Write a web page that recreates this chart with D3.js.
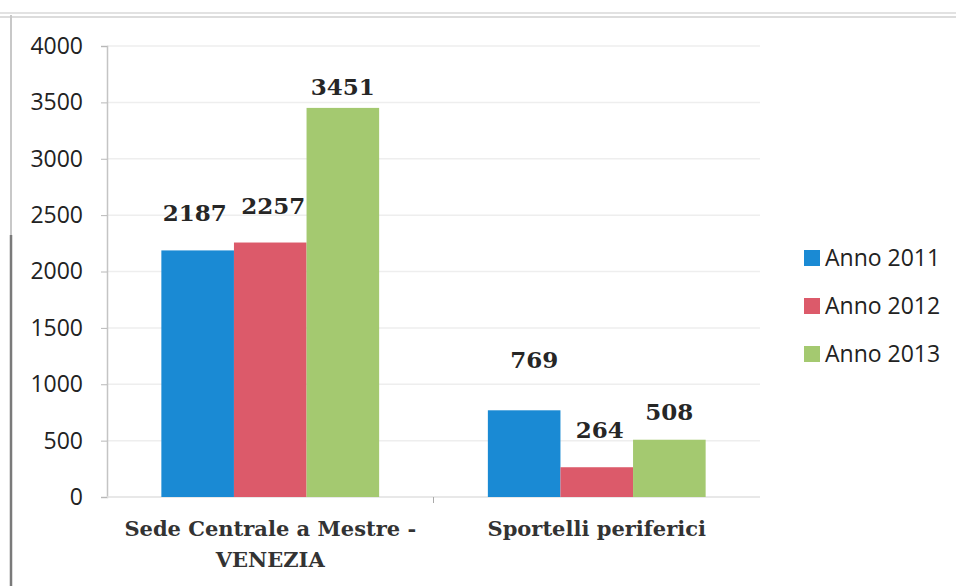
<!DOCTYPE html>
<html><head><meta charset="utf-8">
<script src="https://cdn.jsdelivr.net/npm/d3@7"></script>
<style>body{margin:0;background:#fff}svg{display:block}</style>
</head><body>
<svg id="c" width="956" height="586"></svg>
<script>
const categories = ["Sede Centrale a Mestre - VENEZIA", "Sportelli periferici"];
const categoryLines = [["Sede Centrale a Mestre -", "VENEZIA"], ["Sportelli periferici"]];
const seriesNames = ["Anno 2011", "Anno 2012", "Anno 2013"];
const values2011 = [2187, 769];
const values2012 = [2257, 264];
const values2013 = [3451, 508];
const yTicks = [0, 500, 1000, 1500, 2000, 2500, 3000, 3500, 4000];
const colors = ["#1a8ad4", "#dc5a6a", "#a4c970"];
// label nudges (dx, dy in px relative to bar top centre) as placed in the original
const labelNudge = [
  [[-3, -29], [3, -29], [0, -13]],
  [[10, -42], [3, -29], [0, -20]]
];

const series = [values2011, values2012, values2013];
const svg = d3.select("#c");
const L = 107, R = 760, T = 46, B = 497;

const x0 = d3.scaleBand().domain(categories).range([L, R]).paddingInner(0.333).paddingOuter(0.1665);
const x1 = d3.scaleBand().domain(seriesNames).range([0, x0.bandwidth()]);
const y = d3.scaleLinear().domain([0, 4000]).range([B, T]);

// frame
svg.append("line").attr("x1", 0).attr("x2", 956).attr("y1", 13).attr("y2", 13).attr("stroke", "#e2e2e2").attr("stroke-width", 2);
svg.append("line").attr("x1", 0).attr("x2", 956).attr("y1", 17).attr("y2", 17).attr("stroke", "#d0d0d0").attr("stroke-width", 1.5);
svg.append("line").attr("x1", 11).attr("x2", 11).attr("y1", 15).attr("y2", 235).attr("stroke", "#c8c8c8").attr("stroke-width", 2);
svg.append("line").attr("x1", 11).attr("x2", 11).attr("y1", 235).attr("y2", 586).attr("stroke", "#7a7a7a").attr("stroke-width", 2.5);

// grid
svg.append("g").selectAll("line").data(yTicks.filter(d => d > 0)).join("line")
  .attr("x1", L).attr("x2", R).attr("y1", d => y(d)).attr("y2", d => y(d))
  .attr("stroke", "#eeeeee").attr("stroke-width", 1.5);

// y axis
const yAxis = svg.append("g").attr("transform", `translate(${L},0)`)
  .call(d3.axisLeft(y).tickValues(yTicks).tickSize(6).tickPadding(18).tickFormat(d3.format("d")));
yAxis.select(".domain").attr("stroke", "#c4c4c4").attr("stroke-width", 1.5);
yAxis.selectAll(".tick line").attr("stroke", "#b8b8b8");
yAxis.selectAll("text").attr("font-family", "'Open Sans', sans-serif").attr("font-size", 23).attr("fill", "#222");

// x axis
svg.append("line").attr("x1", L).attr("x2", R).attr("y1", B).attr("y2", B).attr("stroke", "#e0e0e0").attr("stroke-width", 1.5);
svg.append("g").selectAll("line").data([L + (R - L) / 2]).join("line")
  .attr("x1", d => d).attr("x2", d => d).attr("y1", B).attr("y2", B + 6).attr("stroke", "#aaa");

// bars
const g = svg.append("g");
categories.forEach((c, ci) => {
  seriesNames.forEach((s, si) => {
    const v = series[si][ci];
    g.append("rect")
      .attr("x", x0(c) + x1(s)).attr("width", x1.bandwidth())
      .attr("y", y(v)).attr("height", B - y(v)).attr("fill", colors[si]);
  });
});
categories.forEach((c, ci) => {
  seriesNames.forEach((s, si) => {
    const v = series[si][ci];
    const n = labelNudge[ci][si];
    g.append("text")
      .attr("x", x0(c) + x1(s) + x1.bandwidth() / 2 + n[0]).attr("y", y(v) + n[1])
      .attr("text-anchor", "middle").attr("font-family", "'DejaVu Serif', serif").attr("font-weight", "bold")
      .attr("font-size", 23).attr("fill", "#262626").text(v);
  });
});

// category labels
categories.forEach((c, ci) => {
  const t = svg.append("text").attr("text-anchor", "middle")
    .attr("font-family", "'DejaVu Serif', serif").attr("font-weight", "bold").attr("font-size", 21).attr("fill", "#333");
  categoryLines[ci].forEach((ln, li) => {
    t.append("tspan").attr("x", x0(c) + x0.bandwidth() / 2).attr("y", 536 + li * 31).text(ln);
  });
});

// legend
const lg = svg.append("g").selectAll("g").data(seriesNames).join("g")
  .attr("transform", (d, i) => `translate(804, ${258 + i * 48})`);
lg.append("rect").attr("x", 0).attr("y", -8).attr("width", 16).attr("height", 16).attr("fill", (d, i) => colors[i]);
lg.append("text").attr("x", 21).attr("y", 8).attr("font-family", "'Open Sans', sans-serif").attr("font-size", 23).attr("fill", "#222").text(d => d);
</script>
</body></html>
